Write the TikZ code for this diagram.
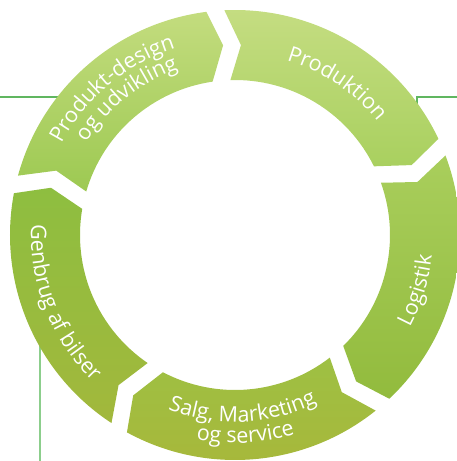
\documentclass[tikz,border=0pt]{standalone}
\usepackage{fontspec}
\setmainfont{Open Sans}
\usetikzlibrary{decorations.text}

\definecolor{rule}{RGB}{96,182,96}
\definecolor{rulelt}{RGB}{140,206,140}
% one light/dark pair per segment
\definecolor{pdtop}{HTML}{C3DC7E}\definecolor{pdbot}{HTML}{9DC952}
\definecolor{prtop}{HTML}{C5DD82}\definecolor{prbot}{HTML}{A9D05F}
\definecolor{lgtop}{HTML}{A9CE5C}\definecolor{lgbot}{HTML}{92BB3D}
\definecolor{sgtop}{HTML}{9EC043}\definecolor{sgbot}{HTML}{A8B73A}
\definecolor{gbtop}{HTML}{8EBE40}\definecolor{gbbot}{HTML}{A2B83C}
\newcommand\ringfont{\fontsize{21.5}{21.5}\selectfont}

\begin{document}
\ringfont
\begin{tikzpicture}[x=1pt, y=1pt,
  frame/.style={line width=1.2pt, draw=rule},
  framelt/.style={line width=1.4pt, draw=rulelt},
  lbl/.style={decorate, decoration={text along path, text align=center,
              text={|\ringfont\color{white}|#1}}},
]
\useasboundingbox (-235,-226) rectangle (222,235);
% thin page rules behind the ring
\coordinate (hl0) at (-235,138);
\coordinate (hl1) at (-170,138);
\coordinate (hr0) at (230,138);
\coordinate (hr1) at (182,138);
\coordinate (hr2) at (182,125);
\coordinate (vl0) at (-195,-226);
\coordinate (vl1) at (-195,-105);
\draw[frame] (hl0) -- (hl1);
\draw[frame] (hr0) -- (hr1) -- (hr2);
\draw[framelt] (vl0) -- (vl1);
% ring segments, clockwise, chevron at each end
\foreach \a/\tc/\bc in {167/pdtop/pdbot, 95/prtop/prbot, 23/lgtop/lgbot,
                        -49/sgtop/sgbot, -121/gbtop/gbbot}{
  \pgfmathsetmacro\so{\a-2.3}
  \pgfmathsetmacro\si{\a-3.3}
  \pgfmathsetmacro\sn{\a-6.8}
  \pgfmathsetmacro\eo{\a-72+2.3}
  \pgfmathsetmacro\ei{\a-72+3.3}
  \pgfmathsetmacro\ep{\a-72-1.4}
  \shade[top color=\tc, bottom color=\bc]
    (\so:225pt) arc[start angle=\so, end angle=\eo, radius=225pt]
    -- (\ep:190pt) -- (\ei:155pt)
    arc[start angle=\ei, end angle=\si, radius=155pt]
    -- (\sn:190pt) -- cycle;
}
% labels along the ring
\path[lbl={Produkt-design}] (170:196pt) arc[start angle=170, end angle=90, radius=196pt];
\path[lbl={og udvikling}] (168.5:175pt) arc[start angle=168.5, end angle=88.5, radius=175pt];
\path[lbl={Produktion}] (96:182pt) arc[start angle=96, end angle=16, radius=182pt];
\path[lbl={Logistik}] (-57:198pt) arc[start angle=-57, end angle=23, radius=198pt];
\path[lbl={Salg, Marketing}] (-127.5:187pt) arc[start angle=-127.5, end angle=-47.5, radius=187pt];
\path[lbl={og service}] (-127:208pt) arc[start angle=-127, end angle=-47, radius=208pt];
\path[lbl={Genbrug af bilser}] (161.5:204pt) arc[start angle=161.5, end angle=241.5, radius=204pt];
\end{tikzpicture}
\end{document}
